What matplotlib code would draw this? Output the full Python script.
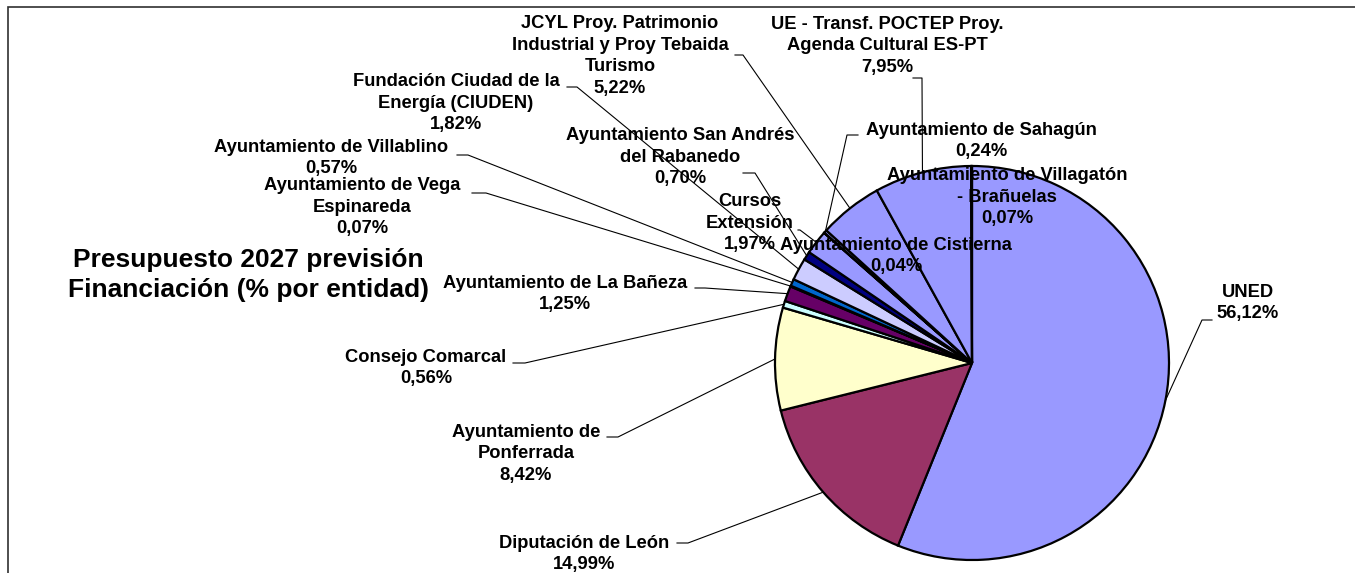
import numpy as np
import matplotlib.pyplot as plt
from matplotlib.patches import Rectangle

plt.rcParams['font.family'] = ['Liberation Sans', 'DejaVu Sans']

# datos (en orden horario desde arriba)
entidades = [
    'UNED',
    'Diputación de León',
    'Ayuntamiento de\nPonferrada',
    'Consejo Comarcal',
    'Ayuntamiento de La Bañeza',
    'Ayuntamiento de Vega\nEspinareda',
    'Ayuntamiento de Villablino',
    'Fundación Ciudad de la\nEnergía (CIUDEN)',
    'Ayuntamiento San Andrés\ndel Rabanedo',
    'Cursos\nExtensión',
    'Ayuntamiento de Cistierna',
    'Ayuntamiento de Sahagún',
    'JCYL Proy. Patrimonio\nIndustrial y Proy Tebaida\nTurismo',
    'UE - Transf. POCTEP Proy.\nAgenda Cultural ES-PT',
    'Ayuntamiento de Villagatón\n- Brañuelas',
]
porcentajes = [56.12, 14.99, 8.42, 0.56, 1.25, 0.07, 0.57, 1.82, 0.70, 1.97,
               0.04, 0.24, 5.22, 7.95, 0.07]
colores = ['#9999FF', '#993366', '#FFFFCC', '#CCFFFF', '#660066', '#FF8080',
           '#0066CC', '#CCCCFF', '#000080', '#9999FF', '#9999FF', '#9999FF',
           '#9999FF', '#9999FF', '#9999FF']
titulo = 'Presupuesto 2027 previsión\nFinanciación (% por entidad)'

W, H = 1355, 573

# centro de cada etiqueta en pixeles (y desde arriba)
pos_etiquetas = [
    (1248, 303), (584, 554), (526, 454), (426, 368), (565, 294),
    (362, 207), (331, 158), (456, 103), (680, 157), (750, 223),
    (896, 256), (981, 141), (620, 56), (887, 46), (1007, 197),
]
# linea guia: punto inicial y codo (pixeles), None si no tiene
guias = [
    ((1212, 320), (1202, 320)),
    ((677, 543), (688, 543)),
    ((607, 437), (618, 437)),
    ((513, 363), (525, 363)),
    ((695, 288), (705, 288)),
    ((472, 193), (486, 193)),
    ((457, 155), (468, 155)),
    ((567, 87), (577, 87)),
    ((743, 173), (755, 173)),
    ((798, 230), (800, 230)),
    None,
    ((858, 135), (847, 135)),
    ((735, 55), (743, 55)),
    ((913, 78), (922, 78)),
    None,
]

fig = plt.figure(figsize=(W / 100, H / 100), dpi=100)
ax = fig.add_axes([0, 0, 1, 1])

cx, cy, r = 972, H - 363, 197
wedges, _ = ax.pie(porcentajes, colors=colores, startangle=90, counterclock=False,
                   center=(cx, cy), radius=r,
                   wedgeprops=dict(edgecolor='black', linewidth=1.6))
ax.set_xlim(0, W)
ax.set_ylim(0, H)
ax.set_aspect('equal')
ax.axis('off')

for w, nombre, val, pos, g in zip(wedges, entidades, porcentajes, pos_etiquetas, guias):
    pct = f'{val:.2f}%'.replace('.', ',')
    ax.text(pos[0], H - pos[1], f'{nombre}\n{pct}', ha='center', va='center',
            fontsize=13.2, fontweight='bold', linespacing=1.37, zorder=5)
    if g is None:
        continue
    ang = np.deg2rad((w.theta1 + w.theta2) / 2)
    ex, ey = cx + r * np.cos(ang), cy + r * np.sin(ang)
    (x0, y0), (x1, y1) = g
    ax.plot([x0, x1, ex], [H - y0, H - y1, ey], color='black', lw=0.8, zorder=4)

ax.text(248, H - 275, titulo, ha='center', va='center', fontsize=19,
        fontweight='bold', linespacing=1.3)

ax.add_patch(Rectangle((8, -20), W + 50, H - 7 + 20, fill=False,
                       edgecolor='#303030', lw=1.2, clip_on=False))

fig.savefig('out.png', dpi=100)
